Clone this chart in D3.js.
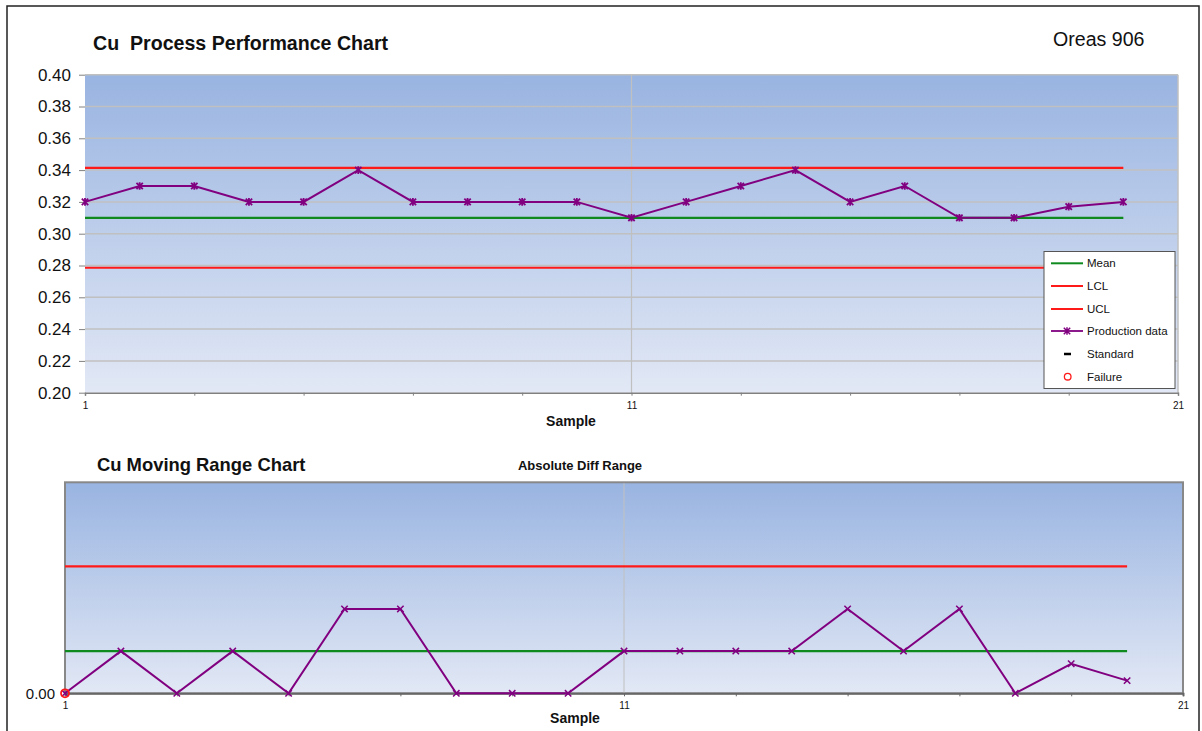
<!DOCTYPE html>
<html>
<head>
<meta charset="utf-8">
<script src="https://cdn.jsdelivr.net/npm/d3@7"></script>
<style>
  html, body { margin: 0; padding: 0; background: #ffffff; }
  svg { display: block; font-family: "Liberation Sans", Arial, sans-serif; }
</style>
</head>
<body>
<svg id="chart" width="1202" height="731"></svg>
<script>
// ---------------- DATA ----------------
const samples = [1,2,3,4,5,6,7,8,9,10,11,12,13,14,15,16,17,18,19,20];
const cuValues = [0.32,0.33,0.33,0.32,0.32,0.34,0.32,0.32,0.32,0.32,0.31,0.32,0.33,0.34,0.32,0.33,0.31,0.31,0.317,0.32];
const cuMean = [0.31];
const cuLCL = [0.2786];
const cuUCL = [0.3414];
const mrValues = [0,0.01,0,0.01,0,0.02,0.02,0,0,0,0.01,0.01,0.01,0.01,0.02,0.01,0.02,0,0.007,0.003];
const mrMean = [0.01];
const mrUCL = [0.0301];
const failureSamples = [1];
const failureValues = [0];
const yTickValues = [0.20,0.22,0.24,0.26,0.28,0.30,0.32,0.34,0.36,0.38,0.40];
const xTickValues = [1,3,5,7,9,11,13,15,17,19,21];
const xLabelValues = [1,11,21];
const legendItems = ["Mean","LCL","UCL","Production data","Standard","Failure"];

// ---------------- STYLES ----------------
const PURPLE = "#800080", RED = "#ff1a1a", GREEN = "#0f8a1f", GRID = "#c0c0c0", AXIS = "#808080";

const svg = d3.select("#chart");

// outer frame
svg.append("rect").attr("x",7).attr("y",6).attr("width",1192).attr("height",740)
  .attr("fill","none").attr("stroke","#222").attr("stroke-width",1.5);

// gradient
const defs = svg.append("defs");
const grad = defs.append("linearGradient").attr("id","bg").attr("x1",0).attr("y1",0).attr("x2",0).attr("y2",1);
grad.append("stop").attr("offset","0%").attr("stop-color","#99b4e1");
grad.append("stop").attr("offset","100%").attr("stop-color","#e2e8f5");

const starPath = "M-3.2,-3.2L3.2,3.2M-3.2,3.2L3.2,-3.2M0,-3.8L0,3.8";
const xPath = "M-3.2,-3.2L3.2,3.2M-3.2,3.2L3.2,-3.2";

// ================= TOP CHART =================
const xTop = d3.scaleLinear().domain([1,21]).range([85,1178]);
const yTop = d3.scaleLinear().domain([0.2,0.4]).range([392.7,74.7]);

const topG = svg.append("g");
topG.append("rect").attr("x",xTop(1)).attr("y",yTop(0.4))
  .attr("width",xTop(21)-xTop(1)).attr("height",yTop(0.2)-yTop(0.4))
  .attr("fill","url(#bg)");

// horizontal gridlines
topG.append("g").selectAll("line").data(yTickValues.filter(v=>v>0.2)).join("line")
  .attr("x1",xTop(1)).attr("x2",xTop(21))
  .attr("y1",d=>yTop(d)).attr("y2",d=>yTop(d))
  .attr("stroke",GRID).attr("stroke-width",1.5);
// vertical gridline at 11
topG.append("line").attr("x1",xTop(11)).attr("x2",xTop(11)).attr("y1",yTop(0.4)).attr("y2",yTop(0.2))
  .attr("stroke",GRID).attr("stroke-width",1.2);
// right border
topG.append("line").attr("x1",xTop(21)).attr("x2",xTop(21)).attr("y1",yTop(0.4)).attr("y2",yTop(0.2))
  .attr("stroke",GRID).attr("stroke-width",1.5);

// y axis
const yAxTop = topG.append("g").attr("transform",`translate(${xTop(1)},0)`)
  .call(d3.axisLeft(yTop).tickValues(yTickValues).tickFormat(d3.format(".2f")).tickSize(6).tickPadding(8));
yAxTop.select(".domain").remove();
yAxTop.selectAll(".tick line").attr("stroke",AXIS);
yAxTop.selectAll(".tick text").attr("font-size","17px").attr("fill","#111").attr("font-family","Liberation Sans, Arial, sans-serif");

// x axis
const xAxTop = topG.append("g").attr("transform",`translate(0,${yTop(0.2)})`)
  .call(d3.axisBottom(xTop).tickValues(xTickValues)
    .tickFormat(d=> xLabelValues.includes(d) ? String(d) : "").tickSize(3).tickPadding(6));
xAxTop.select(".domain").attr("stroke",AXIS).attr("stroke-width",1.5);
xAxTop.selectAll(".tick line").attr("stroke",AXIS);
xAxTop.selectAll(".tick text").attr("font-size","10px").attr("fill","#111").attr("font-family","Liberation Sans, Arial, sans-serif");

// control lines
const hLine = (g, x, y, val, color, w) => g.append("line")
  .attr("x1",x(samples[0])).attr("x2",x(samples[samples.length-1]))
  .attr("y1",y(val)).attr("y2",y(val)).attr("stroke",color).attr("stroke-width",w);
hLine(topG, xTop, yTop, cuUCL[0], RED, 2.2);
hLine(topG, xTop, yTop, cuLCL[0], RED, 2.2);
hLine(topG, xTop, yTop, cuMean[0], GREEN, 2.2);

// production data line
const lineTop = d3.line().x((d,i)=>xTop(samples[i])).y(d=>yTop(d));
topG.append("path").datum(cuValues).attr("d",lineTop)
  .attr("fill","none").attr("stroke",PURPLE).attr("stroke-width",2);
topG.append("g").selectAll("path").data(cuValues).join("path")
  .attr("transform",(d,i)=>`translate(${xTop(samples[i])},${yTop(d)})`)
  .attr("d",starPath).attr("stroke",PURPLE).attr("stroke-width",1.8).attr("fill","none");

// titles
svg.append("text").attr("x",93).attr("y",50).attr("font-size","19.6px").attr("font-weight","bold")
  .attr("fill","#111").style("white-space","pre").text("Cu  Process Performance Chart");
svg.append("text").attr("x",1053).attr("y",46).attr("font-size","19.6px")
  .attr("fill","#111").text("Oreas 906");
svg.append("text").attr("x",571).attr("y",426).attr("text-anchor","middle").attr("font-size","14px")
  .attr("font-weight","bold").attr("fill","#111").text("Sample");

// legend
const lg = svg.append("g");
lg.append("rect").attr("x",1044).attr("y",251.5).attr("width",131).attr("height",137)
  .attr("fill","#ffffff").attr("stroke","#555").attr("stroke-width",1);
const rowY = [263.3,286,309,331,354,376.7];
legendItems.forEach((name,i)=>{
  const y = rowY[i];
  if (i<4) {
    const c = i===0 ? GREEN : (i===3 ? PURPLE : RED);
    lg.append("line").attr("x1",1051).attr("x2",1083).attr("y1",y).attr("y2",y)
      .attr("stroke",c).attr("stroke-width", i===3 ? 1.8 : 2);
    if (i===3) lg.append("path").attr("transform",`translate(1067,${y})`).attr("d",starPath)
      .attr("stroke",PURPLE).attr("stroke-width",1.5).attr("fill","none");
  } else if (i===4) {
    lg.append("line").attr("x1",1064).attr("x2",1071).attr("y1",y).attr("y2",y)
      .attr("stroke","#000").attr("stroke-width",2.5);
  } else {
    lg.append("circle").attr("cx",1067.7).attr("cy",y).attr("r",3.3)
      .attr("fill","none").attr("stroke",RED).attr("stroke-width",1.3);
  }
  lg.append("text").attr("x",1087).attr("y",y).attr("dy","0.35em").attr("font-size","11.5px")
    .attr("fill","#111").text(name);
});

// ================= BOTTOM CHART =================
const xBot = d3.scaleLinear().domain([1,21]).range([65,1183]);
const yBot = d3.scaleLinear().domain([0,0.05]).range([693.3,482.3]);
const botG = svg.append("g");

botG.append("rect").attr("x",xBot(1)).attr("y",yBot(0.05))
  .attr("width",xBot(21)-xBot(1)).attr("height",yBot(0)-yBot(0.05))
  .attr("fill","url(#bg)").attr("stroke","#888").attr("stroke-width",2);
botG.append("line").attr("x1",xBot(11)).attr("x2",xBot(11)).attr("y1",yBot(0.05)+1).attr("y2",yBot(0))
  .attr("stroke",GRID).attr("stroke-width",1);

const xAxBot = botG.append("g").attr("transform",`translate(0,${yBot(0)})`)
  .call(d3.axisBottom(xBot).tickValues(xTickValues)
    .tickFormat(d=> xLabelValues.includes(d) ? String(d) : "").tickSize(3).tickPadding(6));
xAxBot.select(".domain").attr("stroke","#666").attr("stroke-width",2);
xAxBot.selectAll(".tick line").attr("stroke","#666");
xAxBot.selectAll(".tick text").attr("font-size","10px").attr("fill","#111").attr("font-family","Liberation Sans, Arial, sans-serif");

const yAxBot = botG.append("g").attr("transform",`translate(${xBot(1)},0)`)
  .call(d3.axisLeft(yBot).tickValues([0]).tickFormat(d3.format(".2f")).tickSize(0).tickPadding(10));
yAxBot.select(".domain").remove();
yAxBot.selectAll(".tick text").attr("font-size","15px").attr("fill","#111").attr("font-family","Liberation Sans, Arial, sans-serif");

hLine(botG, xBot, yBot, mrUCL[0], RED, 2.2);
hLine(botG, xBot, yBot, mrMean[0], GREEN, 2.2);

const lineBot = d3.line().x((d,i)=>xBot(samples[i])).y(d=>yBot(d));
botG.append("path").datum(mrValues).attr("d",lineBot)
  .attr("fill","none").attr("stroke",PURPLE).attr("stroke-width",2);
botG.append("g").selectAll("path").data(mrValues).join("path")
  .attr("transform",(d,i)=>`translate(${xBot(samples[i])},${yBot(d)})`)
  .attr("d",xPath).attr("stroke",PURPLE).attr("stroke-width",1.5).attr("fill","none");

botG.append("g").selectAll("circle").data(failureSamples).join("circle")
  .attr("cx",(d)=>xBot(d)).attr("cy",(d,i)=>yBot(failureValues[i])).attr("r",4)
  .attr("fill","none").attr("stroke",RED).attr("stroke-width",1.8);

svg.append("text").attr("x",97).attr("y",471).attr("font-size","18.4px").attr("font-weight","bold")
  .attr("fill","#111").text("Cu Moving Range Chart");
svg.append("text").attr("x",580).attr("y",469.5).attr("text-anchor","middle").attr("font-size","13px")
  .attr("font-weight","bold").attr("fill","#111").text("Absolute Diff Range");
svg.append("text").attr("x",575).attr("y",723).attr("text-anchor","middle").attr("font-size","14px")
  .attr("font-weight","bold").attr("fill","#111").text("Sample");
</script>
</body>
</html>
